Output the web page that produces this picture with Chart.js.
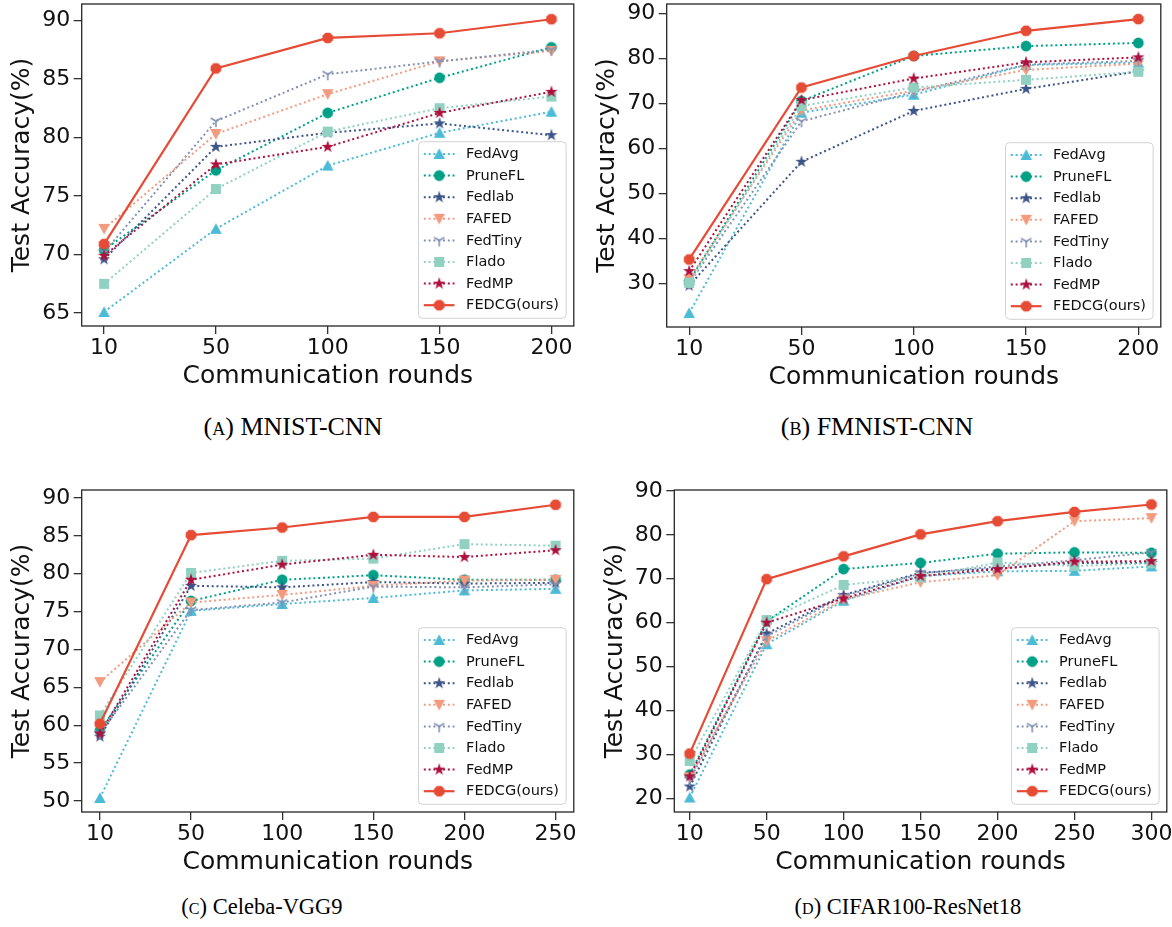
<!DOCTYPE html>
<html>
<head>
<meta charset="utf-8">
<script src="https://cdn.jsdelivr.net/npm/chart.js@4/dist/chart.umd.min.js"></script>
<style>
  body { margin: 0; background: #fff; width: 1172px; height: 927px; position: relative; overflow: hidden; }
  canvas { position: absolute; }
  .cap { position: absolute; font-family: "Liberation Serif", serif; color: #000; transform: translate(-50%, -50%); white-space: nowrap; }
  .cap .sc { font-variant: small-caps; }
</style>
</head>
<body>
<canvas id="mnist"></canvas>
<canvas id="fmnist"></canvas>
<canvas id="celeba"></canvas>
<canvas id="cifar"></canvas>
<div class="cap" style="left:293px;top:427px;font-size:26px"><span class="sc">(a)</span> MNIST-CNN</div>
<div class="cap" style="left:877px;top:427px;font-size:26px"><span class="sc">(b)</span> FMNIST-CNN</div>
<div class="cap" style="left:262px;top:907px;font-size:22.5px"><span class="sc">(c)</span> Celeba-VGG9</div>
<div class="cap" style="left:908px;top:907px;font-size:22.5px"><span class="sc">(d)</span> CIFAR100-ResNet18</div>
<script>
// methods, in legend / plotting order
const methods = ['FedAvg', 'PruneFL', 'Fedlab', 'FAFED', 'FedTiny', 'Flado', 'FedMP', 'FEDCG(ours)'];

const roundsMnist = ['10', '50', '100', '150', '200'];
const roundsFmnist = ['10', '50', '100', '150', '200'];
const roundsCeleba = ['10', '50', '100', '150', '200', '250'];
const roundsCifar = ['10', '50', '100', '150', '200', '250', '300'];

// test accuracy (%), one row per method
const mnistAcc = [
  [65.1, 72.2, 77.6, 80.4, 82.2],
  [70.4, 77.2, 82.1, 85.1, 87.7],
  [69.6, 79.2, 80.4, 81.2, 80.2],
  [72.2, 80.3, 83.7, 86.5, 87.4],
  [70.2, 81.4, 85.4, 86.5, 87.5],
  [67.5, 75.6, 80.5, 82.5, 83.5],
  [69.9, 77.7, 79.2, 82.1, 83.9],
  [70.9, 85.9, 88.5, 88.9, 90.1]
];
const fmnistAcc = [
  [23.4, 67.9, 71.9, 78.5, 79.0],
  [30.5, 70.5, 80.5, 82.7, 83.4],
  [29.5, 57.0, 68.3, 73.2, 77.1],
  [31.0, 68.4, 72.8, 77.4, 78.8],
  [30.0, 66.0, 72.5, 78.6, 79.4],
  [30.1, 69.4, 73.5, 75.2, 77.0],
  [32.7, 70.7, 75.5, 79.1, 80.2],
  [35.3, 73.5, 80.5, 86.1, 88.7]
];
const celebaAcc = [
  [50.4, 75.1, 76.0, 76.8, 77.8, 78.0],
  [59.3, 76.4, 79.2, 79.8, 79.2, 79.2],
  [58.5, 78.4, 78.2, 78.9, 78.7, 78.8],
  [65.7, 76.2, 77.2, 78.4, 79.1, 79.2],
  [58.9, 75.2, 76.2, 78.3, 78.2, 78.6],
  [61.3, 80.1, 81.7, 82.0, 83.9, 83.7],
  [58.9, 79.2, 81.2, 82.5, 82.2, 83.1],
  [60.2, 85.1, 86.1, 87.5, 87.5, 89.1]
];
const cifarAcc = [
  [20.2, 55.1, 65.0, 70.6, 71.7, 71.8, 72.8],
  [25.4, 60.3, 72.2, 73.6, 75.7, 76.0, 75.9],
  [22.7, 57.5, 66.3, 71.4, 72.3, 73.6, 73.6],
  [24.8, 55.8, 65.3, 69.2, 70.8, 83.1, 83.8],
  [24.2, 56.9, 66.0, 71.2, 72.8, 74.2, 76.0],
  [28.5, 60.6, 68.6, 70.3, 73.7, 72.9, 73.5],
  [25.0, 60.0, 65.5, 70.6, 72.2, 73.9, 74.0],
  [30.2, 69.9, 75.1, 80.1, 83.1, 85.2, 86.9]
];

const ticksMnist = [65, 70, 75, 80, 85, 90];
const ticksFmnist = [30, 40, 50, 60, 70, 80, 90];
const ticksCeleba = [50, 55, 60, 65, 70, 75, 80, 85, 90];
const ticksCifar = [20, 30, 40, 50, 60, 70, 80, 90];

const colors = ['#4DBBD5', '#00A087', '#3C5488', '#F39B7F', '#8491B4', '#91D1C2', '#AE0F3C', '#E64B35'];
const shapes = ['triangle', 'circle', 'star', 'triangleDown', 'tri', 'square', 'star', 'octagon'];

function markerCanvas(shape, color) {
  const s = 18;
  const c = document.createElement('canvas');
  c.width = c.height = s;
  const g = c.getContext('2d');
  g.translate(s / 2, s / 2);
  g.fillStyle = color;
  g.strokeStyle = color;
  g.beginPath();
  if (shape === 'circle') {
    g.arc(0, 0, 5.4, 0, Math.PI * 2);
  } else if (shape === 'octagon') {
    for (let k = 0; k < 8; k++) {
      const a = Math.PI / 8 + k * Math.PI / 4;
      g.lineTo(5.8 * Math.cos(a), 5.8 * Math.sin(a));
    }
  } else if (shape === 'square') {
    g.rect(-5, -5, 10, 10);
  } else if (shape === 'triangle') {
    g.moveTo(0, -5.8); g.lineTo(5.8, 5); g.lineTo(-5.8, 5);
  } else if (shape === 'triangleDown') {
    g.moveTo(0, 5.8); g.lineTo(5.8, -5); g.lineTo(-5.8, -5);
  } else if (shape === 'star') {
    for (let k = 0; k < 10; k++) {
      const r = k % 2 ? 2.5 : 6.5;
      const a = -Math.PI / 2 + k * Math.PI / 5;
      g.lineTo(r * Math.cos(a), r * Math.sin(a));
    }
  } else if (shape === 'tri') {
    g.lineWidth = 1.6;
    g.moveTo(0, 0); g.lineTo(0, 6);
    g.moveTo(0, 0); g.lineTo(-5.2, -3);
    g.moveTo(0, 0); g.lineTo(5.2, -3);
    g.stroke();
    return c;
  }
  g.closePath();
  g.fill();
  return c;
}

const markers = shapes.map((s, i) => markerCanvas(s, colors[i]));

const framePlugin = {
  id: 'frame',
  afterDatasetsDraw(chart) {
    const {ctx, chartArea: a} = chart;
    ctx.save();
    ctx.strokeStyle = '#262626';
    ctx.lineWidth = 1.3;
    ctx.strokeRect(a.left, a.top, a.right - a.left, a.bottom - a.top);
    ctx.restore();
  }
};

const boxLegend = {
  id: 'boxLegend',
  afterDatasetsDraw(chart) {
    const {ctx, chartArea: a} = chart;
    const w = 147.6, h = 176.6;
    const x0 = a.right - 7.7 - w, y0 = a.bottom - 7.7 - h;
    ctx.save();
    ctx.beginPath();
    ctx.roundRect(x0, y0, w, h, 4);
    ctx.fillStyle = 'rgba(255,255,255,0.8)';
    ctx.fill();
    ctx.strokeStyle = '#d3d3d3';
    ctx.lineWidth = 1;
    ctx.stroke();
    ctx.font = '14.5px "DejaVu Sans"';
    ctx.textBaseline = 'middle';
    chart.data.datasets.forEach((ds, i) => {
      const y = y0 + 12.3 + i * 21.6;
      ctx.beginPath();
      ctx.setLineDash(ds.borderDash);
      ctx.strokeStyle = ds.borderColor;
      ctx.lineWidth = ds.borderWidth;
      ctx.moveTo(x0 + 5.3, y);
      ctx.lineTo(x0 + 36, y);
      ctx.stroke();
      ctx.setLineDash([]);
      ctx.drawImage(ds.pointStyle, x0 + 20.7 - 9, y - 9);
      ctx.fillStyle = '#111';
      ctx.fillText(ds.label, x0 + 47.6, y + 0.5);
    });
    ctx.restore();
  }
};

function buildDatasets(rows) {
  return rows.map((vals, i) => {
    const ours = i === rows.length - 1;
    return {
      label: methods[i],
      data: vals.map((v, k) => ({x: k, y: v})),
      borderColor: colors[i],
      backgroundColor: colors[i],
      borderWidth: ours ? 2.2 : 2,
      borderDash: ours ? [] : [2, 2.8],
      pointStyle: markers[i],
      pointRadius: 6,
      order: rows.length - 1 - i,
      tension: 0
    };
  });
}

const tickFont = {family: 'DejaVu Sans', size: 22};
const titleFont = {family: 'DejaVu Sans', size: 25};

// area = plot box in page pixels
function drawPanel(id, rounds, rows, yTicks, yMin, yMax, area) {
  const cv = document.getElementById(id);
  const left = Math.round(area.left - 82);
  const top = Math.round(area.top - 20);
  const yWidth = area.left - left;
  cv.width = Math.ceil(area.right + 6 - left);
  cv.height = Math.round(area.bottom + 70 - top);
  cv.style.left = left + 'px';
  cv.style.top = top + 'px';
  const grid = {drawOnChartArea: false, tickLength: 8, tickColor: '#333', lineWidth: 1.3};
  new Chart(cv, {
    type: 'line',
    data: {datasets: buildDatasets(rows)},
    options: {
      responsive: false,
      animation: false,
      events: [],
      layout: {padding: {left: 0, top: area.top - top, right: cv.width - (area.right - left), bottom: 0}},
      plugins: {legend: {display: false}, tooltip: {enabled: false}},
      scales: {
        x: {
          type: 'linear',
          min: -0.2,
          max: rounds.length - 0.8,
          afterBuildTicks: s => { s.ticks = rounds.map((r, k) => ({value: k})); },
          afterFit: s => { s.height = area.bottom + 70 - top - (area.bottom - top); },
          ticks: {callback: v => rounds[v], font: tickFont, color: '#111', padding: 1, maxRotation: 0, autoSkip: false},
          grid: grid,
          border: {display: false},
          title: {display: true, text: 'Communication rounds', font: titleFont, color: '#111', padding: {top: 0, bottom: 5}}
        },
        y: {
          min: yMin,
          max: yMax,
          afterBuildTicks: s => { s.ticks = yTicks.map(v => ({value: v})); },
          afterFit: s => { s.width = yWidth; },
          ticks: {font: tickFont, color: '#111', padding: 3.5},
          grid: grid,
          border: {display: false},
          title: {display: true, text: 'Test Accuracy(%)', font: titleFont, color: '#111',
                  padding: {top: (area.left - 59) - left - 15, bottom: 0}}
        }
      }
    },
    plugins: [framePlugin, boxLegend]
  });
}

drawPanel('mnist', roundsMnist, mnistAcc, ticksMnist, 63.9, 91.4, {left: 81.7, top: 4, right: 576, bottom: 326});
drawPanel('fmnist', roundsFmnist, fmnistAcc, ticksFmnist, 20.3, 92.05, {left: 666.7, top: 4, right: 1162.3, bottom: 326.7});
drawPanel('celeba', roundsCeleba, celebaAcc, ticksCeleba, 48.55, 91.05, {left: 81.7, top: 490, right: 576, bottom: 811.7});
drawPanel('cifar', roundsCifar, cifarAcc, ticksCifar, 16.9, 90.2, {left: 674.3, top: 490, right: 1169, bottom: 811.7});
</script>
</body>
</html>
